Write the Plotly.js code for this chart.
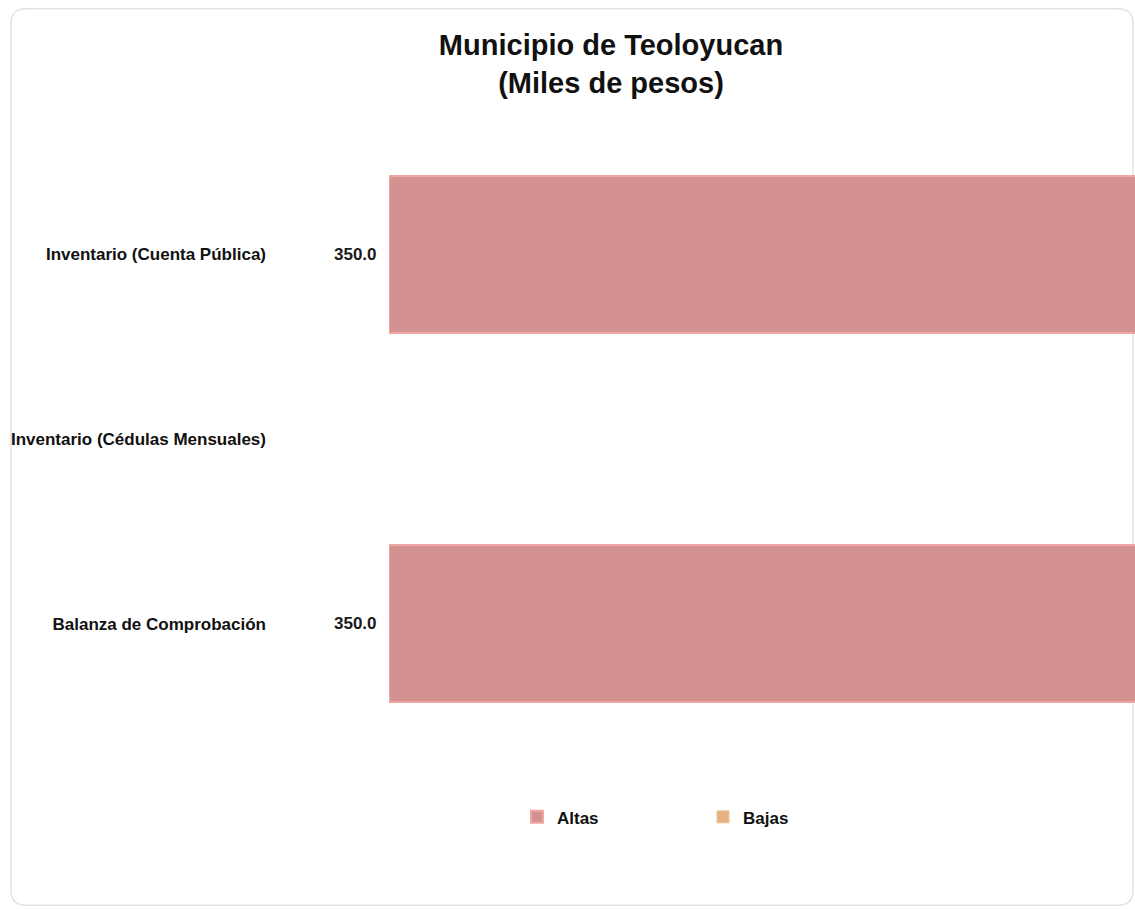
<!DOCTYPE html>
<html>
<head>
<meta charset="utf-8">
<script src="https://cdn.plot.ly/plotly-3.0.1.min.js"></script>
<style>html,body{margin:0;padding:0;background:#fff;}#chart{width:1135px;height:909px;}</style>
</head>
<body>
<div id="chart"></div>
<script>
const categories = ["Inventario (Cuenta Pública)", "Inventario (Cédulas Mensuales)", "Balanza de Comprobación"];
const altas = [350.0, null, 350.0];
const bajas = [null, null, null];
const valueLabels = ["350.0", "", "350.0"];
const labelBase = [0, 0, 0];

const FONT = "Liberation Sans, Arial, sans-serif";

const traces = [
  {
    type: "bar", orientation: "h", name: "Altas",
    y: categories, x: altas,
    marker: {color: "#D49191", line: {color: "#EFA5A3", width: 2}},
    hoverinfo: "x+y"
  },
  {
    type: "bar", orientation: "h", name: "Bajas",
    y: categories, x: bajas,
    marker: {color: "#E6B283", line: {color: "#EFC49A", width: 1}},
    hoverinfo: "x+y"
  }
];

const annotations = categories.map((c, i) => ({
  x: labelBase[i], y: c, xref: "x", yref: "y",
  text: valueLabels[i] ? "<b>" + valueLabels[i] + "</b>" : "",
  showarrow: false, xanchor: "right", yanchor: "middle", xshift: -10,
  font: {family: FONT, size: 17, color: "#1a1a1a"}
})).filter(a => a.text);

// frame (rounded rectangle) in paper coords
const L = 389, R = 1135, T = 161.5, B = 716.5;
const px = v => (v - L) / (R - L);
const py = v => (B - v) / (B - T);
const fx0 = px(11), fx1 = px(1133), fy0 = py(8), fy1 = py(906);
const rx = 15 / (R - L), ry = 15 / (B - T);
const framePath = `M ${fx0 + rx},${fy0} L ${fx1 - rx},${fy0} Q ${fx1},${fy0} ${fx1},${fy0 - ry} L ${fx1},${fy1 + ry} Q ${fx1},${fy1} ${fx1 - rx},${fy1} L ${fx0 + rx},${fy1} Q ${fx0},${fy1} ${fx0},${fy1 + ry} L ${fx0},${fy0 - ry} Q ${fx0},${fy0} ${fx0 + rx},${fy0} Z`;

const layout = {
  width: 1135, height: 909,
  paper_bgcolor: "#ffffff", plot_bgcolor: "rgba(0,0,0,0)",
  margin: {l: L, r: 0, t: T, b: 909 - B, pad: 0},
  font: {family: FONT, color: "#111"},
  title: {
    text: "<b>Municipio de Teoloyucan<br>(Miles de pesos)</b>",
    font: {family: FONT, size: 29, color: "#111"},
    x: 611 / 1135, xanchor: "center", xref: "container",
    y: 1 - 55 / 909, yanchor: "top", yref: "container"
  },
  barmode: "stack", bargap: 0.15,
  xaxis: {range: [0, 320], visible: false, fixedrange: true},
  yaxis: {
    type: "category", autorange: "reversed",
    showgrid: false, zeroline: false, showline: false, ticks: "",
    ticklabelstandoff: 122,
    tickfont: {family: FONT, size: 17, color: "#111", weight: "bold"}
  },
  annotations: annotations,
  showlegend: true,
  legend: {
    orientation: "h", traceorder: "normal",
    x: px(517), xanchor: "left", y: py(818), yanchor: "middle",
    entrywidth: 141, entrywidthmode: "pixels",
    font: {family: FONT, size: 17, color: "#111", weight: "bold"},
    itemclick: false
  },
  shapes: [{
    type: "path", xref: "paper", yref: "paper", path: framePath,
    line: {color: "#e4e4e4", width: 1.5}, fillcolor: "rgba(0,0,0,0)", layer: "below"
  }]
};

Plotly.newPlot("chart", traces, layout, {displayModeBar: false, responsive: false});
</script>
</body>
</html>
